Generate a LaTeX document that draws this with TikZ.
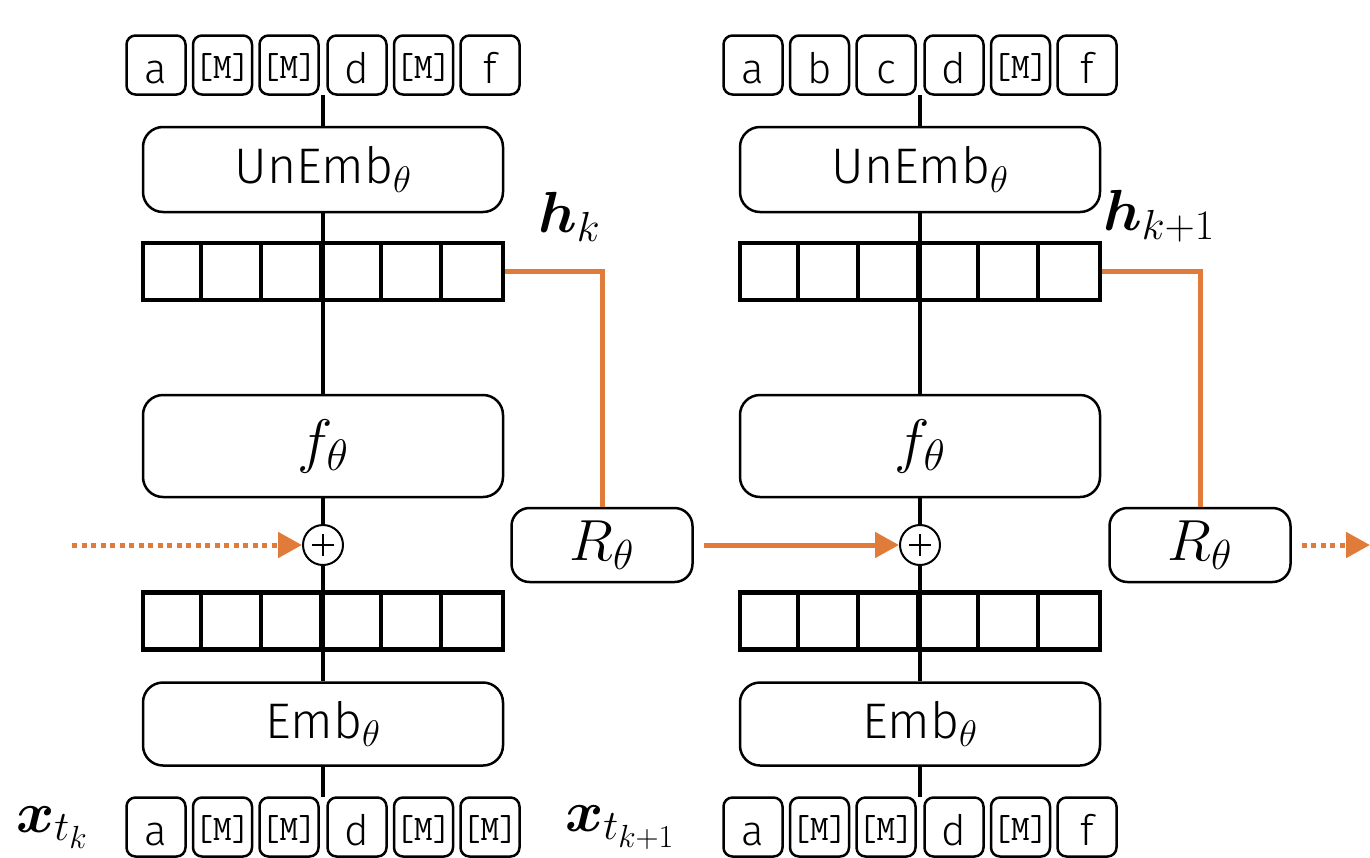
\RequirePackage{fix-cm}
\documentclass[tikz,border=0pt]{standalone}
\usepackage{amsmath}
\usepackage{bm}
\usepackage[no-math]{fontspec}
\setmainfont{Fira Sans Light}
\DeclareMathSizes{50}{50}{37}{28}
\DeclareMathSizes{58}{58}{42}{32}
\DeclareMathSizes{60}{60}{44}{33}
\usetikzlibrary{arrows.meta}
\definecolor{org}{RGB}{224,123,57}
\begin{document}
\begin{tikzpicture}[x=1pt,y=-1pt,
  tok/.style={draw, line width=2.5pt, rounded corners=9pt, minimum width=59pt, minimum height=59pt,
    inner sep=0pt, text height=40pt, text depth=4pt, font=\fontsize{42}{44}\selectfont},
  mtok/.style={tok, text height=36pt, text depth=10pt, font=\ttfamily\fontsize{36}{38}\selectfont},
  bigbox/.style={draw, line width=2.5pt, rounded corners=20pt, fill=white, minimum width=360pt,
    inner sep=0pt, font=\fontsize{50}{54}\selectfont},
  vec/.style={draw, line width=4.5pt, fill=white, minimum width=360pt, minimum height=57pt, inner sep=0pt},
  cell/.style={line width=4pt},
  plusc/.style={draw, circle, line width=2pt, fill=white, minimum size=40pt, inner sep=0pt,
    path picture={
      \draw[line width=1.6pt] ([xshift=-11pt]path picture bounding box.center) -- ([xshift=11pt]path picture bounding box.center);
      \draw[line width=1.6pt] ([yshift=-11pt]path picture bounding box.center) -- ([yshift=11pt]path picture bounding box.center);
    }},
  rbox/.style={draw, line width=2.5pt, rounded corners=18pt, fill=white, minimum width=181pt, minimum height=74pt,
    inner sep=0pt, font=\fontsize{58}{62}\selectfont},
  conn/.style={line width=4.5pt},
  oline/.style={draw=org, line width=5pt},
  otip/.style={-{Triangle[length=24pt,width=25pt]}, org},
  dots/.style={dash pattern=on 5pt off 4.5pt},
  lab/.style={inner sep=0pt, font=\fontsize{58}{62}\selectfont}
]
\useasboundingbox (0,0) rectangle (1370,857);

\foreach \c/\cx in {A/323,B/920}{
  \node[bigbox, minimum height=85pt] (un\c) at (\cx,169.5) {UnEmb$_{\theta}$};
  \node[vec] (h\c) at (\cx,271.5) {};
  \node[bigbox, minimum height=102pt, font=\fontsize{60}{64}\selectfont] (f\c) at (\cx,446) {$f_\theta$};
  \node[plusc] (p\c) at (\cx,545) {};
  \node[vec] (v\c) at (\cx,621) {};
  \node[bigbox, minimum height=83pt] (em\c) at (\cx,724) {Emb$_{\theta}$};
  \foreach \i in {1,...,5}{
    \draw[cell] ([xshift=\i*60pt]h\c.north west) -- ([xshift=\i*60pt]h\c.south west);
    \draw[cell] ([xshift=\i*60pt]v\c.north west) -- ([xshift=\i*60pt]v\c.south west);
  }
  \coordinate (tt\c) at (\cx,95);
  \coordinate (bt\c) at (\cx,797);
  \draw[conn] (tt\c) -- (un\c.north);
  \draw[conn] (un\c.south) -- (f\c.north);
  \draw[conn] (f\c.south) -- (p\c.north);
  \draw[conn] (p\c.south) -- (em\c.north);
  \draw[conn] (em\c.south) -- (bt\c);
}

% top tokens, left
\node[tok]  (tA1) at (156,65) {a};
\node[mtok] (tA2) at (222.5,65) {[M]};
\node[mtok] (tA3) at (289,65) {[M]};
\node[tok]  (tA4) at (357,65) {d};
\node[mtok] (tA5) at (423.5,65) {[M]};
\node[tok]  (tA6) at (490,65) {f};
% top tokens, right
\node[tok]  (tB1) at (753,65) {a};
\node[tok]  (tB2) at (819.5,65) {b};
\node[tok]  (tB3) at (886,65) {c};
\node[tok]  (tB4) at (954,65) {d};
\node[mtok] (tB5) at (1020.5,65) {[M]};
\node[tok]  (tB6) at (1087,65) {f};
% bottom tokens, left
\node[tok]  (bA1) at (156,827) {a};
\node[mtok] (bA2) at (222.5,827) {[M]};
\node[mtok] (bA3) at (289,827) {[M]};
\node[tok]  (bA4) at (357,827) {d};
\node[mtok] (bA5) at (423.5,827) {[M]};
\node[mtok] (bA6) at (490,827) {[M]};
% bottom tokens, right
\node[tok]  (bB1) at (753,827) {a};
\node[mtok] (bB2) at (819.5,827) {[M]};
\node[mtok] (bB3) at (886,827) {[M]};
\node[tok]  (bB4) at (954,827) {d};
\node[mtok] (bB5) at (1020.5,827) {[M]};
\node[tok]  (bB6) at (1087,827) {f};

% recurrence boxes
\node[rbox] (RA) at (602,545) {$R_\theta$};
\node[rbox] (RB) at (1200,545) {$R_\theta$};

% labels
\node[lab, anchor=base west] (hkA) at (538,232) {$\bm{h}_k$};
\node[lab, anchor=base west] (hkB) at (1103,230) {$\bm{h}_{k+1}$};
\node[lab, anchor=base west] (xA) at (16,832) {$\bm{x}_{t_k}$};
\node[lab, anchor=base west] (xB) at (565,831) {$\bm{x}_{t_{k+1}}$};

% orange connectors
\draw[oline] (hA.east) -| (RA.north);
\draw[oline] (hB.east) -| (RB.north);
\coordinate (inL) at (72,545);
\coordinate (outR) at (1370,545);
\draw[oline, dots, otip] (inL) -- (pA.west);
\draw[oline, otip] ([xshift=10pt]RA.east) -- (pB.west);
\draw[oline, dots, otip] ([xshift=10pt]RB.east) -- (outR);
\end{tikzpicture}
\end{document}
